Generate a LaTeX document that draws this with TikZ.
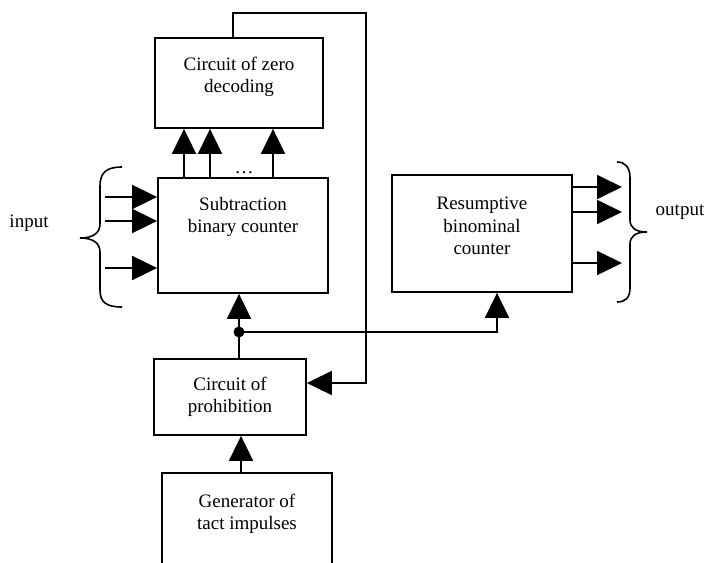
\documentclass[tikz,border=0pt]{standalone}
\usepackage{fontspec}
\setmainfont{Liberation Serif}
\usetikzlibrary{arrows.meta}
\begin{document}
\begin{tikzpicture}[x=1pt,y=-1pt,
  box/.style={draw, line width=1.8pt, inner sep=0pt, rectangle},
  txt/.style={align=center, font=\fontsize{19}{22.5}\selectfont, inner sep=0pt},
  conn/.style={line width=1.8pt, -{Triangle[length=25pt,width=24pt]}},
  wire/.style={line width=1.8pt},
  bracestyle/.style={line width=1.6pt}]
\useasboundingbox (0,0) rectangle (727,562);
\clip (0,0) rectangle (727,562);
\fill[white] (0,0) rectangle (727,562);

% boxes
\node[box, minimum width=168pt, minimum height=90pt] (zero) at (239,83) {};
\node[box, minimum width=170pt, minimum height=115pt] (sub) at (243,235.5) {};
\node[box, minimum width=180pt, minimum height=117pt] (res) at (482,233.5) {};
\node[box, minimum width=152pt, minimum height=76pt] (proh) at (230,397) {};
\node[box, minimum width=170pt, minimum height=117pt] (gen) at (247,531.5) {};

% texts
\node[txt] (zerot) at (239,77) {Circuit of zero\\decoding};
\node[txt] (subt) at (243,217) {Subtraction\\binary counter};
\node[txt] (rest) at (482,226) {Resumptive\\binominal\\counter};
\node[txt] (proht) at (230,397) {Circuit of\\prohibition};
\node[txt] (gent) at (247,514) {Generator of\\tact impulses};
\node[txt] (inlab) at (29,223) {input};
\node[txt] (outlab) at (680,212) {output};
\node[txt, anchor=base] (dots) at (244,173) {…};

% sub -> zero
\draw[conn] (sub.north -| 184,0) -- (zero.south -| 184,0);
\draw[conn] (sub.north -| 210,0) -- (zero.south -| 210,0);
\draw[conn] (sub.north -| 273,0) -- (zero.south -| 273,0);

% inputs
\coordinate (i1) at (105,197);
\coordinate (i2) at (105,221);
\coordinate (i3) at (105,268);
\draw[conn] (i1) -- (i1 -| sub.west);
\draw[conn] (i2) -- (i2 -| sub.west);
\draw[conn] (i3) -- (i3 -| sub.west);

% outputs
\coordinate (o1) at (622,187);
\coordinate (o2) at (622,212);
\coordinate (o3) at (622,263);
\draw[conn] (o1 -| res.east) -- (o1);
\draw[conn] (o2 -| res.east) -- (o2);
\draw[conn] (o3 -| res.east) -- (o3);

% feedback
\coordinate (f1) at (233,13);
\coordinate (f2) at (366,13);
\coordinate (f3) at (366,383);
\draw[conn] (f1 |- zero.north) -- (f1) -- (f2) -- (f3) -- (f3 -| proh.east);

% clock path
\node[circle, fill, inner sep=0pt, minimum size=11pt] (j) at (239,332) {};
\coordinate (r1) at (497,332);
\draw[conn] (gen.north -| 241,0) -- (proh.south -| 241,0);
\draw[wire] (proh.north -| j) -- (j.center);
\draw[conn] (j.center) -- (j |- sub.south);
\draw[conn] (j.center) -- (r1) -- (r1 |- res.south);

% braces
\draw[bracestyle] (122,167) .. controls (106,167) and (100,173) .. (100,186) -- (100,224)
  .. controls (100,233) and (93,238) .. (80,238)
  .. controls (93,238) and (100,243) .. (100,252) -- (100,290)
  .. controls (100,302) and (106,307) .. (122,307);
\draw[bracestyle] (617,162) .. controls (625,162) and (630,167) .. (630,178) -- (630,220)
  .. controls (630,228) and (636,232) .. (647,232)
  .. controls (636,232) and (630,236) .. (630,244) -- (630,288)
  .. controls (630,298) and (625,302) .. (617,302);
\end{tikzpicture}
\end{document}
